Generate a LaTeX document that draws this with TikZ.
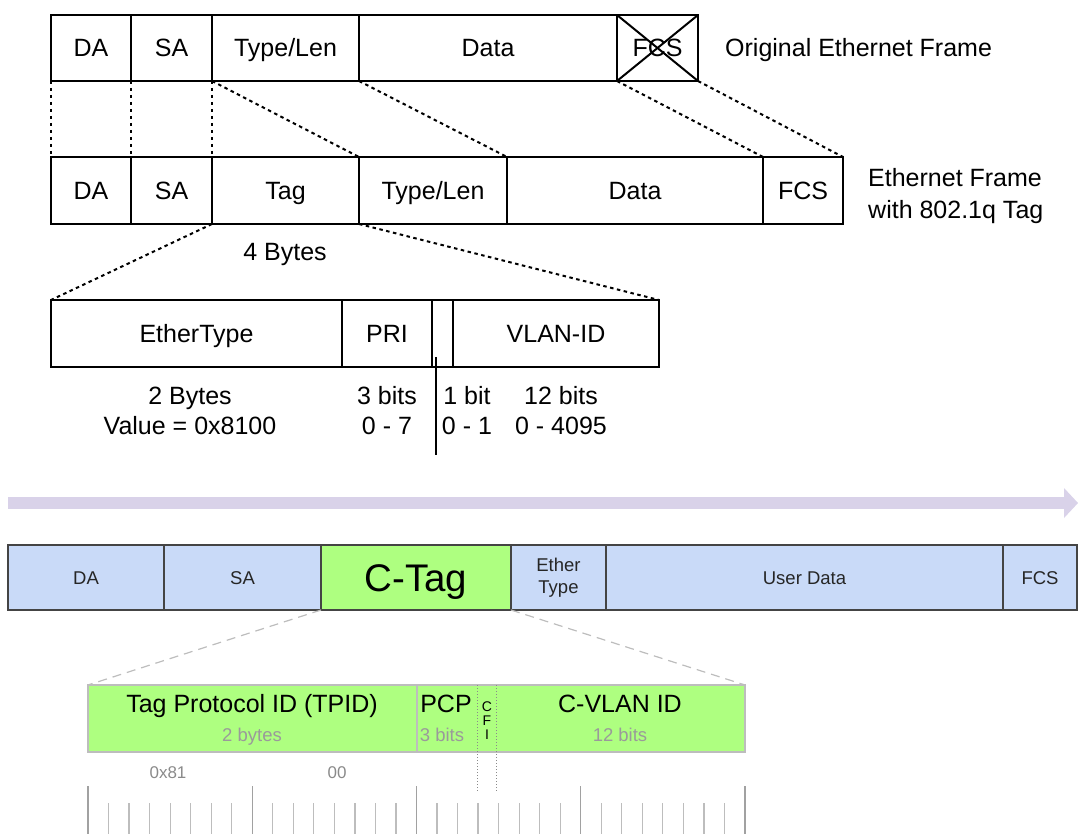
\documentclass[tikz,border=0pt]{standalone}
\usepackage{fontspec}
\setmainfont{Liberation Sans}
\definecolor{lav}{HTML}{D9D2E9}
\definecolor{lblue}{HTML}{C9DAF8}
\definecolor{lgreen}{HTML}{AEFF80}
\definecolor{dgray}{HTML}{444444}
\definecolor{bgray}{HTML}{BDBDBD}
\definecolor{tgray}{HTML}{9A9A9A}
\definecolor{ngray}{HTML}{8A8A8A}
\newcommand\fbx[7]{\node[#7, minimum width={#3-#2}, minimum height={#5-#4}, anchor=north west] (#1) at (#2,#4) {#6};}
\newcommand\fA{\fontsize{25}{30}\selectfont}
\newcommand\fB{\fontsize{18.5}{22}\selectfont}
\newcommand\fC{\fontsize{25}{28}\selectfont}
\tikzset{
  capc/.style={text height=#1, text depth=0pt},
  topbox/.style={draw=black, line width=2.2pt, inner sep=0pt, outer sep=0pt, font=\fA, capc=17.9pt},
  blubox/.style={draw=dgray, fill=lblue, line width=1.8pt, inner sep=0pt, outer sep=0pt, font=\fB, align=center, text=black!85},
  grnbox/.style={fill=lgreen, inner sep=0pt, outer sep=0pt},
  blackdash/.style={draw=black, line width=2pt, dash pattern=on 3.5pt off 3.5pt},
  graydash/.style={draw=bgray, line width=1.2pt, dash pattern=on 9pt off 6pt},
  lbl/.style={inner sep=0pt, font=\fA, align=center},
  tick/.style={draw=bgray, line width=1.2pt},
}
\begin{document}
\begin{tikzpicture}[x=1pt,y=-1pt]
\useasboundingbox (0,0) rectangle (1078,834);
% original frame
\fbx{o1}{51}{131}{15}{81}{DA}{topbox}
\fbx{o2}{131}{212}{15}{81}{SA}{topbox}
\fbx{o3}{212}{359}{15}{81}{Type/Len}{topbox}
\fbx{o4}{359}{617}{15}{81}{Data}{topbox}
\fbx{o5}{617}{698}{15}{81}{FCS}{topbox}
\draw[line width=2pt] (o5.north west) -- (o5.south east) (o5.south west) -- (o5.north east);
\node[lbl, capc=17.9pt, anchor=west] (t1) at (725,48) {Original Ethernet Frame};
% tagged frame
\fbx{n1}{51}{131}{157}{224}{DA}{topbox}
\fbx{n2}{131}{212}{157}{224}{SA}{topbox}
\fbx{n3}{212}{359}{157}{224}{Tag}{topbox}
\fbx{n4}{359}{507}{157}{224}{Type/Len}{topbox}
\fbx{n5}{507}{763}{157}{224}{Data}{topbox}
\fbx{n6}{763}{843}{157}{224}{FCS}{topbox}
\node[lbl, anchor=west, align=left, font=\fontsize{25}{32}\selectfont] (t2) at (868,196) {Ethernet Frame\\with 802.1q Tag};
\draw[blackdash] (o1.south west) -- (n1.north west);
\draw[blackdash] (o2.south west) -- (n2.north west);
\draw[blackdash] (o3.south west) -- (n3.north west);
\draw[blackdash] (o3.south west) -- (n4.north west);
\draw[blackdash] (o4.south west) -- (n5.north west);
\draw[blackdash] (o5.south west) -- (n6.north west);
\draw[blackdash] (o5.south east) -- (n6.north east);
\node[lbl, capc=17.9pt] (b4) at (285,252) {4 Bytes};
% tag detail
\fbx{e1}{51}{342}{300}{367}{EtherType}{topbox}
\fbx{e2}{342}{432}{300}{367}{PRI}{topbox}
\fbx{e3}{432}{453}{300}{367}{}{topbox}
\fbx{e4}{453}{659}{300}{367}{VLAN-ID}{topbox}
\draw[blackdash] (n3.south west) -- (e1.north west);
\draw[blackdash] (n3.south east) -- (e4.north east);
\coordinate (vt) at (436,357);
\coordinate (vb) at (436,455);
\draw[line width=2pt] (vt) -- (vb);
\node[lbl] (l1) at (190,411) {2 Bytes\\Value = 0x8100};
\node[lbl] (l2) at (387,411) {3 bits\\0 - 7};
\node[lbl] (l3) at (467,411) {1 bit\\0 - 1};
\node[lbl] (l4) at (561,411) {12 bits\\0 - 4095};
% arrow
\coordinate (as) at (8,503);
\coordinate (ae) at (1065,503);
\draw[lav, line width=12pt] (as) -- (ae);
\fill[lav] (1064,488) -- (1078,503) -- (1064,518) -- cycle;
% blue frame
\fbx{b1}{8}{164}{545}{610}{DA}{blubox, capc=13.2pt}
\fbx{b2}{164}{321}{545}{610}{SA}{blubox, capc=13.2pt}
\fbx{b3}{321}{511}{545}{610}{\fontsize{38.5}{42}\selectfont C-Tag}{blubox, fill=lgreen, text=black, capc=27.6pt}
\fbx{b4}{511}{606}{545}{610}{Ether\\Type}{blubox}
\fbx{b5}{606}{1003}{545}{610}{User Data}{blubox, capc=13.2pt}
\fbx{b6}{1003}{1077}{545}{610}{FCS}{blubox, capc=13.2pt}
% green detail
\fbx{g1}{88}{417}{685}{752}{}{grnbox}
\fbx{g2}{417}{477}{685}{752}{}{grnbox}
\fbx{g3}{477}{496}{685}{752}{}{grnbox}
\fbx{g4}{496}{745}{685}{752}{}{grnbox}
\draw[bgray, line width=1.8pt] (g1.north west) rectangle (g4.south east);
\draw[bgray, line width=1.8pt] (g1.north east) -- (g1.south east);
\coordinate (d1) at (477,792);
\coordinate (d2) at (496,792);
\draw[ngray, line width=1pt, dotted] (g3.north west) -- (d1);
\draw[ngray, line width=1pt, dotted] (g3.north east) -- (d2);
\draw[graydash] (b3.south west) -- (g1.north west);
\draw[graydash] (b3.south east) -- (g4.north east);
\node[lbl, capc=17.9pt, font=\fC] (h1) at (252,704) {Tag Protocol ID (TPID)};
\node[lbl, capc=13.2pt, font=\fB, text=tgray] (s1) at (252,735) {2 bytes};
\node[lbl, capc=17.9pt, font=\fC] (h2) at (446,704) {PCP};
\node[lbl, capc=13.2pt, font=\fB, text=tgray] (s2) at (442,735) {3 bits};
\node[lbl, capc=10pt, font=\fontsize{14}{16}\selectfont] (c1) at (487,706) {C};
\node[lbl, capc=10pt, font=\fontsize{14}{16}\selectfont] (c2) at (487,720) {F};
\node[lbl, capc=10pt, font=\fontsize{14}{16}\selectfont] (c3) at (487,734) {I};
\node[lbl, capc=17.9pt, font=\fC] (h4) at (620,704) {C-VLAN ID};
\node[lbl, capc=13.2pt, font=\fB, text=tgray] (s4) at (620,735) {12 bits};
\node[lbl, capc=12.2pt, font=\fontsize{17}{20}\selectfont, text=ngray] (v1) at (168,772) {0x81};
\node[lbl, capc=12.2pt, font=\fontsize{17}{20}\selectfont, text=ngray] (v2) at (337,772) {00};
% ruler
\foreach \i in {0,...,4} {
  \draw[tick, draw=bgray!85!black, line width=1.4pt] ({88+\i*164.25},786) -- ({88+\i*164.25},834);
}
\foreach \i in {0,...,3} {
  \foreach \j in {1,...,7} {
    \draw[tick] ({88+\i*164.25+\j*20.53},803) -- ({88+\i*164.25+\j*20.53},834);
  }
}
\end{tikzpicture}
\end{document}
